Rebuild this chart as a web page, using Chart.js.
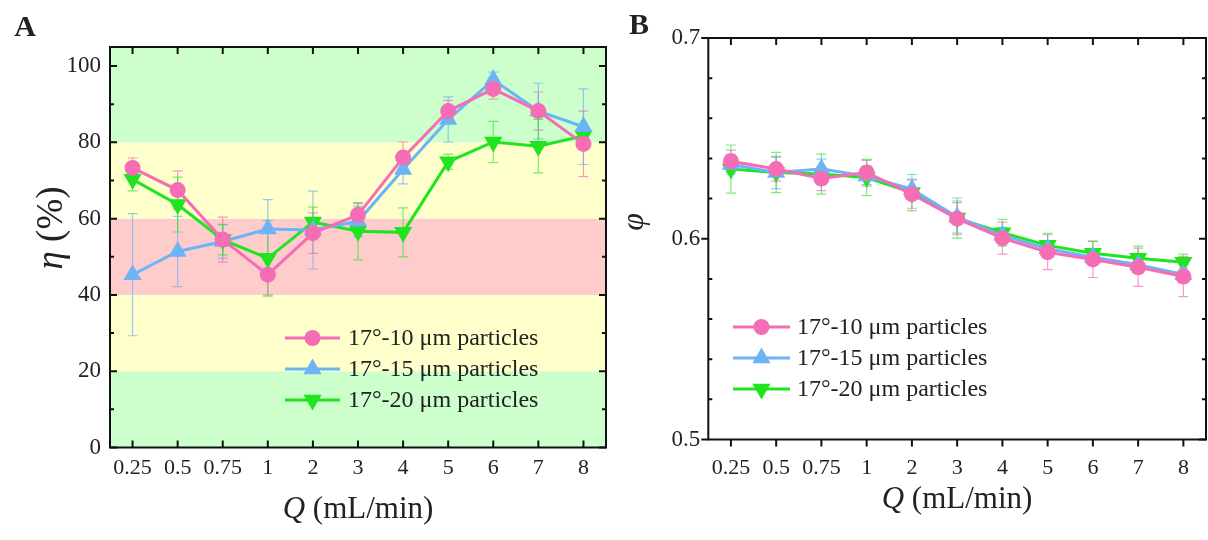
<!DOCTYPE html>
<html>
<head>
<meta charset="utf-8">
<script src="https://cdn.jsdelivr.net/npm/chart.js@4/dist/chart.umd.min.js"></script>
<style>
  html, body { margin:0; padding:0; background:#fff; }
  #wrap { position:relative; width:1208px; height:540px; background:#fff; overflow:hidden; }
  canvas { position:absolute; top:0; }
</style>
</head>
<body>
<div id="wrap">
  <canvas id="chartA" width="620" height="540" style="left:0;width:620px;height:540px"></canvas>
  <canvas id="chartB" width="588" height="540" style="left:620px;width:588px;height:540px"></canvas>
</div>
<script>
// ---------------- DATA ----------------
const categories = ['0.25','0.5','0.75','1','2','3','4','5','6','7','8'];
const seriesNames = ['17°-10 μm particles','17°-15 μm particles','17°-20 μm particles'];

// Panel A: separation efficiency eta (%)
const etaP10    = [73.3, 67.5, 54.5, 45.3, 56.2, 61.0, 76.0, 88.2, 94.0, 88.2, 79.6];
const etaP10Err = [2.6, 5.0, 5.9, 5.3, 5.3, 3.0, 4.1, 2.8, 2.7, 5.0, 8.6];
const etaP15    = [45.3, 51.4, 54.0, 57.3, 57.0, 59.3, 72.9, 86.0, 96.4, 88.2, 84.1];
const etaP15Err = [16.0, 9.2, 4.4, 7.7, 10.2, 4.0, 3.8, 5.9, 2.0, 7.3, 9.9];
const etaP20    = [70.3, 63.7, 54.5, 49.6, 59.1, 56.7, 56.4, 74.9, 80.1, 79.0, 81.7];
const etaP20Err = [3.0, 7.2, 4.0, 9.9, 3.9, 7.5, 6.4, 2.0, 5.4, 7.0, 2.0];

// Panel B: phi
const phiP10    = [0.6386, 0.6347, 0.6300, 0.6330, 0.6222, 0.6100, 0.6003, 0.5933, 0.5897, 0.5858, 0.5812];
const phiP10Err = [0.0055, 0.006, 0.006, 0.006, 0.007, 0.008, 0.008, 0.0087, 0.009, 0.0095, 0.010];
const phiP15    = [0.6370, 0.6330, 0.6347, 0.6312, 0.6247, 0.6108, 0.6017, 0.5950, 0.5908, 0.5870, 0.5822];
const phiP15Err = [0.005, 0.008, 0.005, 0.005, 0.005, 0.008, 0.004, 0.004, 0.004, 0.004, 0.003];
const phiP20    = [0.6347, 0.6330, 0.6322, 0.6305, 0.6230, 0.6103, 0.6030, 0.5967, 0.5928, 0.5903, 0.5883];
const phiP20Err = [0.012, 0.010, 0.010, 0.009, 0.009, 0.010, 0.0067, 0.006, 0.006, 0.006, 0.004];

// Axis ticks
const etaTicks = [0, 20, 40, 60, 80, 100];
const etaMinorTicks = [10, 30, 50, 70, 90];
const phiTicks = [0.5, 0.6, 0.7];
const phiMinorTicks = [0.52, 0.54, 0.56, 0.58, 0.62, 0.64, 0.66, 0.68];

// Background bands for panel A: [from, to, colour]
const etaBands = [[0, 20, '#CCFFCC'], [20, 40, '#FFFFCC'], [40, 60, '#FFCCCC'], [60, 80, '#FFFFCC'], [80, 105, '#CCFFCC']];

// ---------------- STYLE ----------------
const COLORS = ['#F46DB5', '#6CB4F5', '#1FE41F'];
const ERR_COLORS = ['rgba(244,109,181,0.7)', 'rgba(108,180,245,0.7)', 'rgba(31,228,31,0.6)'];
const STYLES = [{s:'circle', r:8, rot:0}, {s:'triangle', r:10.5, rot:0}, {s:'triangle', r:10.5, rot:180}];
const SERIF = '"Liberation Serif", "Times New Roman", serif';
Chart.defaults.font.family = SERIF;
Chart.defaults.color = '#222';

function drawMarker(ctx, st, x, y, color) {
  ctx.save();
  ctx.fillStyle = color;
  ctx.beginPath();
  if (st.s === 'circle') {
    ctx.arc(x, y, st.r, 0, Math.PI * 2);
  } else {
    const a0 = st.rot * Math.PI / 180;
    for (let k = 0; k < 3; k++) {
      const a = a0 + k * 2 * Math.PI / 3;
      const px = x + Math.sin(a) * st.r, py = y - Math.cos(a) * st.r;
      if (k === 0) ctx.moveTo(px, py); else ctx.lineTo(px, py);
    }
    ctx.closePath();
  }
  ctx.fill();
  ctx.restore();
}

function drawRich(ctx, parts, x, y, size, rotate) {
  ctx.save();
  ctx.translate(x, y);
  if (rotate) ctx.rotate(rotate);
  ctx.textBaseline = 'middle';
  ctx.fillStyle = '#222';
  let total = 0;
  const fonts = parts.map(p => (p.i ? 'italic ' : '') + (p.b ? 'bold ' : '') + size + 'px ' + SERIF);
  parts.forEach((p, k) => { ctx.font = fonts[k]; total += ctx.measureText(p.t).width; });
  let cx = -total / 2;
  parts.forEach((p, k) => {
    ctx.font = fonts[k];
    ctx.textAlign = 'left';
    ctx.fillText(p.t, cx, 0);
    cx += ctx.measureText(p.t).width;
  });
  ctx.restore();
}

const decoPlugin = {
  id: 'deco',
  beforeDatasetsDraw(chart) {
    const o = chart.options.plugins.deco;
    const ctx = chart.ctx, ca = chart.chartArea, ys = chart.scales.y;
    ctx.save();
    if (o.bands) {
      o.bands.forEach(b => {
        const y1 = ys.getPixelForValue(b[1]), y0 = ys.getPixelForValue(b[0]);
        const top = Math.max(ca.top, Math.min(y0, y1)), bot = Math.min(ca.bottom, Math.max(y0, y1));
        ctx.fillStyle = b[2];
        ctx.fillRect(ca.left, top, ca.right - ca.left, bot - top);
      });
    }
    // error bars
    chart.data.datasets.forEach((ds, di) => {
      const meta = chart.getDatasetMeta(di);
      ctx.strokeStyle = ERR_COLORS[di];
      ctx.lineWidth = 1.2;
      ds.err.forEach((e, i) => {
        const x = meta.data[i].x;
        const yt = ys.getPixelForValue(ds.data[i] + e), yb = ys.getPixelForValue(ds.data[i] - e);
        ctx.beginPath();
        ctx.moveTo(x, yt); ctx.lineTo(x, yb);
        ctx.moveTo(x - 5, yt); ctx.lineTo(x + 5, yt);
        ctx.moveTo(x - 5, yb); ctx.lineTo(x + 5, yb);
        ctx.stroke();
      });
    });
    ctx.restore();
  },
  afterDraw(chart) {
    const o = chart.options.plugins.deco;
    const ctx = chart.ctx, ca = chart.chartArea, ys = chart.scales.y, xs = chart.scales.x;
    ctx.save();
    ctx.strokeStyle = '#111';
    ctx.lineWidth = 2;
    ctx.strokeRect(ca.left, ca.top, ca.right - ca.left, ca.bottom - ca.top);
    ctx.lineWidth = 2;
    const MJ = 7, MN = 4;
    ctx.beginPath();
    // x ticks
    categories.forEach((c, i) => {
      const x = xs.getPixelForValue(i);
      ctx.moveTo(x, ca.top); ctx.lineTo(x, ca.top + MJ);
      if (o.bottomOut) { ctx.moveTo(x, ca.bottom); ctx.lineTo(x, ca.bottom + MJ); }
      else { ctx.moveTo(x, ca.bottom); ctx.lineTo(x, ca.bottom - MJ); }
    });
    o.major.forEach(v => {
      const y = ys.getPixelForValue(v);
      if (o.leftOut) { ctx.moveTo(ca.left, y); ctx.lineTo(ca.left - MJ, y); }
      else { ctx.moveTo(ca.left, y); ctx.lineTo(ca.left + MJ, y); }
      ctx.moveTo(ca.right, y); ctx.lineTo(ca.right - MJ, y);
    });
    o.minor.forEach(v => {
      const y = ys.getPixelForValue(v);
      ctx.moveTo(ca.left, y); ctx.lineTo(ca.left + MN, y);
      ctx.moveTo(ca.right, y); ctx.lineTo(ca.right - MN, y);
    });
    ctx.stroke();
    ctx.restore();
    // legend
    const lg = o.legend;
    seriesNames.forEach((n, k) => {
      const y = lg.y + k * lg.dy;
      ctx.save();
      ctx.strokeStyle = COLORS[k]; ctx.lineWidth = 3;
      ctx.beginPath(); ctx.moveTo(lg.x0, y); ctx.lineTo(lg.x1, y); ctx.stroke();
      ctx.restore();
      drawMarker(ctx, STYLES[k], (lg.x0 + lg.x1) / 2, y, COLORS[k]);
      ctx.save();
      ctx.font = lg.size + 'px ' + SERIF;
      ctx.fillStyle = '#222';
      ctx.textBaseline = 'middle'; ctx.textAlign = 'left';
      ctx.fillText(n, lg.tx, y + 1);
      ctx.restore();
    });
    // titles
    o.texts.forEach(t => drawRich(ctx, t.parts, t.x, t.y, t.size, t.rot));
  }
};

function makeDatasets(vals, errs) {
  return vals.map((v, k) => ({
    label: seriesNames[k],
    data: v,
    err: errs[k],
    borderColor: COLORS[k],
    backgroundColor: COLORS[k],
    pointBackgroundColor: COLORS[k],
    pointBorderColor: COLORS[k],
    pointBorderWidth: 0,
    pointStyle: STYLES[k].s,
    pointRadius: STYLES[k].r,
    pointRotation: STYLES[k].rot,
    borderWidth: 3,
    tension: 0,
    clip: false
  }));
}

function makeChart(id, cfg) {
  return new Chart(document.getElementById(id), {
    type: 'line',
    data: { labels: categories, datasets: makeDatasets(cfg.vals, cfg.errs) },
    options: {
      responsive: false,
      animation: false,
      layout: { autoPadding: false, padding: { left: 0, top: cfg.top, right: cfg.right, bottom: 0 } },
      plugins: { legend: { display: false }, tooltip: { enabled: false }, deco: cfg.deco },
      scales: {
        x: {
          type: 'category', offset: true,
          grid: { display: false, drawTicks: false }, border: { display: false },
          ticks: { padding: cfg.xPad, font: { size: 22 }, color: '#222', maxRotation: 0, autoSkip: false },
          afterFit(s) { s.height = cfg.xH; s.paddingLeft = 0; s.paddingRight = 0; }
        },
        y: {
          min: cfg.ymin, max: cfg.ymax,
          grid: { display: false, drawTicks: false }, border: { display: false },
          afterBuildTicks(s) { s.ticks = cfg.yTicks.map(v => ({ value: v })); },
          ticks: { padding: cfg.yPad, font: { size: 23 }, color: '#222', callback: cfg.fmt },
          afterFit(s) { s.width = cfg.yW; s.paddingTop = 0; s.paddingBottom = 0; }
        }
      }
    },
    plugins: [decoPlugin]
  });
}

makeChart('chartA', {
  vals: [etaP10, etaP15, etaP20], errs: [etaP10Err, etaP15Err, etaP20Err],
  top: 47, right: 14, xH: 92.5, yW: 110, xPad: 8, yPad: 9,
  ymin: 0, ymax: 105, yTicks: etaTicks, fmt: v => String(v),
  deco: {
    bands: etaBands, major: etaTicks, minor: etaMinorTicks, bottomOut: false, leftOut: false,
    legend: { x0: 285, x1: 340, tx: 348, y: 338, dy: 31, size: 24 },
    texts: [
      { parts: [{ t: 'A', b: true }], x: 25, y: 28, size: 30 },
      { parts: [{ t: 'Q', i: true }, { t: ' (mL/min)' }], x: 358, y: 510, size: 31 },
      { parts: [{ t: 'η', i: true }, { t: ' (%)' }], x: 52, y: 228, size: 37, rot: -Math.PI / 2 }
    ]
  }
});

makeChart('chartB', {
  vals: [phiP10, phiP15, phiP20], errs: [phiP10Err, phiP15Err, phiP20Err],
  top: 38, right: 2, xH: 100.5, yW: 88.3, xPad: 16, yPad: 8,
  ymin: 0.5, ymax: 0.7, yTicks: phiTicks, fmt: v => Number(v).toFixed(1),
  deco: {
    bands: null, major: phiTicks, minor: phiMinorTicks, bottomOut: true, leftOut: true,
    legend: { x0: 113, x1: 170, tx: 177, y: 327, dy: 31, size: 24 },
    texts: [
      { parts: [{ t: 'B', b: true }], x: 19, y: 26, size: 30 },
      { parts: [{ t: 'Q', i: true }, { t: ' (mL/min)' }], x: 337, y: 500, size: 31 },
      { parts: [{ t: 'φ', i: true }], x: 15, y: 222, size: 32, rot: -Math.PI / 2 }
    ]
  }
});
</script>
</body>
</html>
